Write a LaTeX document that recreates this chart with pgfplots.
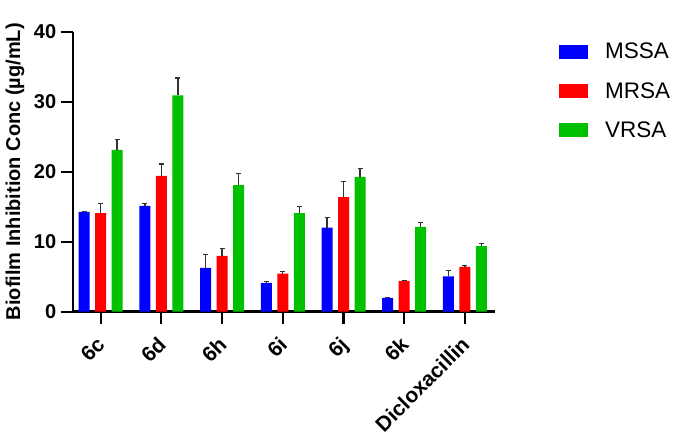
\documentclass[border=0pt]{standalone}
\usepackage{pgfplots}
\pgfplotsset{compat=1.18}
\usepackage{fontspec}
\setmainfont{Liberation Sans}
\definecolor{mblue}{RGB}{0,0,255}
\definecolor{mred}{RGB}{255,0,0}
\definecolor{mgreen}{RGB}{0,192,0}
\definecolor{errc}{RGB}{50,50,50}
\begin{document}
\begin{tikzpicture}
\useasboundingbox (0,0) rectangle (673pt,433pt);
\begin{axis}[
  at={(72.7pt,121.3pt)}, anchor=south west,
  scale only axis, width=422pt, height=280pt,
  ymin=0, ymax=40, ytick={0,10,20,30,40},
  xmin=-0.46, xmax=6.49,
  xtick={0,1,2,3,4,5,6},
  xticklabels={6c,6d,6h,6i,6j,6k,Dicloxacillin},
  axis x line*=bottom, axis y line*=left,
  axis line style={line width=2.4pt, black},
  tick style={line width=2.2pt, black},
  major tick length=12pt, tick align=outside,
  /pgf/number format/assume math mode=true,
  yticklabel style={font=\fontsize{20}{23}\selectfont\bfseries, xshift=-1pt},
  xticklabel style={font=\fontsize{21}{24}\selectfont\bfseries, xshift=-5pt, yshift=-7pt, rotate=45, anchor=north east},
  every axis y label/.style={at={(axis description cs:-0.137,0.5)}, rotate=90, anchor=center},
  ylabel={Biofilm Inhibition Conc (µg/mL)},
  ylabel style={font=\fontsize{20}{23}\selectfont\bfseries},
  ybar, bar width=11pt,
  legend style={at={(axis description cs:1.152,0.96)}, anchor=north west,
    draw=none, fill=none, inner sep=0pt, row sep=22pt,
    font=\fontsize{22.5}{24}\selectfont,
    nodes={inner sep=0pt}},
  legend cell align=left,
  legend image code/.code={\fill[#1] (0pt,-7pt) rectangle (29pt,7pt); \path (46pt,0pt);},
  error bars/y dir=plus, error bars/y explicit,
  error bars/error bar style={errc, line width=1.3pt},
  error bars/error mark options={rotate=90, errc, line width=1.3pt, mark size=2.5pt},
]
\addplot[fill=mblue, draw=none, bar shift=-16.5pt] coordinates {
 (0,14.25) +- (0,0.1)
 (1,15.1) +- (0,0.4)
 (2,6.25) +- (0,1.9)
 (3,4.1) +- (0,0.2)
 (4,12.0) +- (0,1.5)
 (5,1.96) +- (0,0.1)
 (6,5.05) +- (0,0.8)
};
\addplot[fill=mred, draw=none, bar shift=0pt] coordinates {
 (0,14.07) +- (0,1.35)
 (1,19.4) +- (0,1.7)
 (2,7.96) +- (0,1.05)
 (3,5.44) +- (0,0.33)
 (4,16.36) +- (0,2.25)
 (5,4.39) +- (0,0.1)
 (6,6.39) +- (0,0.2)
};
\addplot[fill=mgreen, draw=none, bar shift=16.5pt] coordinates {
 (0,23.13) +- (0,1.5)
 (1,30.9) +- (0,2.5)
 (2,18.07) +- (0,1.67)
 (3,14.07) +- (0,1.0)
 (4,19.27) +- (0,1.23)
 (5,12.11) +- (0,0.67)
 (6,9.35) +- (0,0.43)
};
\legend{MSSA,MRSA,VRSA}
\end{axis}
\end{tikzpicture}
\end{document}
